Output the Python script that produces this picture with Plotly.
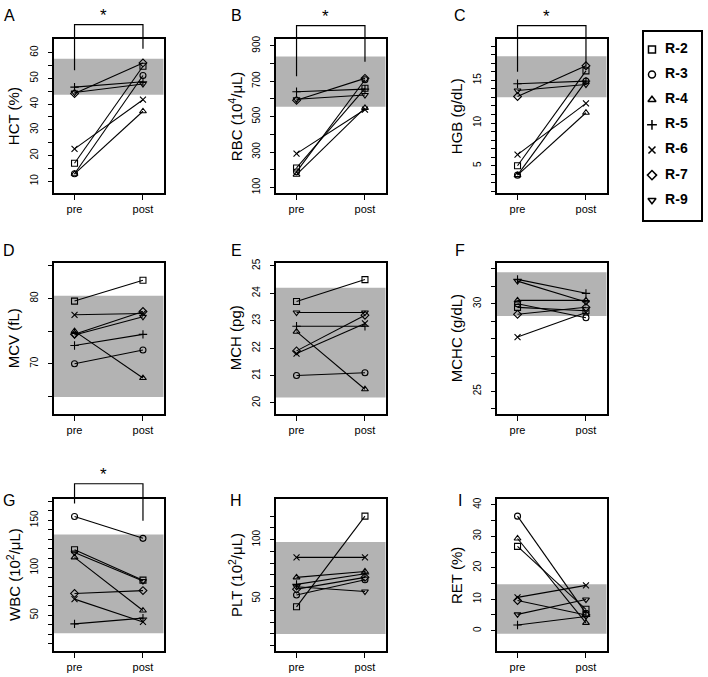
import plotly.graph_objects as go

W, H = 708, 677
FONT = "Liberation Sans, Arial, Helvetica, sans-serif"
INK = "#000000"
BAND = "#b3b3b3"

PATIENTS = ["R-2", "R-3", "R-4", "R-5", "R-6", "R-7", "R-9"]
SYMBOLS = ["square-open", "circle-open", "triangle-up-open", "cross-thin-open",
           "x-thin-open", "diamond-open", "triangle-down-open"]
PHASES = ["pre", "post"]

# values per patient (R-2 .. R-9)
HCT_PRE = [17.0, 12.9, 12.9, 46.6, 22.6, 44.1, 44.5]
HCT_POST = [54.7, 51.1, 37.2, 48.7, 41.7, 56.0, 47.8]
RBC_PRE = [210, 188, 172, 640, 291, 592, 598]
RBC_POST = [660, 708, 549, 655, 540, 716, 622]
HGB_PRE = [5.0, 3.9, 3.9, 14.6, 6.3, 13.1, 13.8]
HGB_POST = [16.1, 14.9, 11.2, 14.9, 12.3, 16.7, 14.5]
MCV_PRE = [79.6, 70.0, 75.0, 72.8, 77.5, 74.5, 74.4]
MCV_POST = [82.8, 72.1, 67.8, 74.5, 77.7, 78.0, 77.2]
MCH_PRE = [23.7, 21.0, 22.6, 22.8, 21.8, 21.9, 23.3]
MCH_POST = [24.5, 21.1, 20.5, 22.8, 22.9, 23.2, 23.3]
MCHC_PRE = [29.8, 30.0, 30.2, 31.4, 28.1, 29.4, 31.3]
MCHC_POST = [29.6, 29.2, 30.2, 30.6, 29.5, 29.8, 30.1]
WBC_PRE = [119, 154, 111, 41, 67, 73, 116]
WBC_POST = [87, 131, 55, 47, 43, 76, 86]
PLT_PRE = [43, 53, 68, 62, 85, 58, 60]
PLT_POST = [120, 66, 73, 71, 85, 68, 56]
RET_PRE = [26.8, 36.4, 29.3, 1.8, 10.6, 9.6, 5.2]
RET_POST = [6.8, 5.5, 2.5, 4.5, 14.4, 5.0, 9.9]

# reference ranges (grey bands)
HCT_REF = (43.6, 57.6)
RBC_REF = (555, 840)
HGB_REF = (13.0, 17.8)
MCV_REF = (64.9, 80.4)
MCH_REF = (20.2, 24.2)
MCHC_REF = (29.3, 31.8)
WBC_REF = (31, 135)
PLT_REF = (20, 98)
RET_REF = (-1, 14.8)

# tick marks and the subset that carries a label
HCT_TICKS, HCT_LABELS = list(range(10, 61, 5)), [10, 20, 30, 40, 50, 60]
RBC_TICKS, RBC_LABELS = list(range(100, 901, 100)), [100, 300, 500, 700, 900]
HGB_TICKS, HGB_LABELS = list(range(2, 20)), [5, 10, 15]
MCV_TICKS, MCV_LABELS = list(range(65, 86, 5)), [70, 80]
MCH_TICKS, MCH_LABELS = list(range(20, 26)), [20, 21, 22, 23, 24, 25]
MCHC_TICKS, MCHC_LABELS = list(range(24, 33)), [25, 30]
WBC_TICKS, WBC_LABELS = list(range(20, 171, 10)), [50, 100, 150]
PLT_TICKS, PLT_LABELS = list(range(10, 121, 10)), [50, 100]
RET_TICKS, RET_LABELS = list(range(0, 41, 5)), [0, 10, 20, 30, 40]

# letter, y title, pre, post, band, y range, ticks, labels, significant
PANELS = [
    ("A", "HCT (%)", HCT_PRE, HCT_POST, HCT_REF, (5.4, 65.2), HCT_TICKS, HCT_LABELS, True),
    ("B", "RBC (10<sup>4</sup>/μL)", RBC_PRE, RBC_POST, RBC_REF, (68, 937), RBC_TICKS, RBC_LABELS, True),
    ("C", "HGB (g/dL)", HGB_PRE, HGB_POST, HGB_REF, (1.8, 19.8), HGB_TICKS, HGB_LABELS, True),
    ("D", "MCV (fL)", MCV_PRE, MCV_POST, MCV_REF, (62.3, 85.5), MCV_TICKS, MCV_LABELS, False),
    ("E", "MCH (pg)", MCH_PRE, MCH_POST, MCH_REF, (19.6, 25.12), MCH_TICKS, MCH_LABELS, False),
    ("F", "MCHC (g/dL)", MCHC_PRE, MCHC_POST, MCHC_REF, (23.7, 32.36), MCHC_TICKS, MCHC_LABELS, False),
    ("G", "WBC (10<sup>2</sup>/μL)", WBC_PRE, WBC_POST, WBC_REF, (12.2, 172.6), WBC_TICKS, WBC_LABELS, True),
    ("H", "PLT (10<sup>2</sup>/μL)", PLT_PRE, PLT_POST, PLT_REF, (5.3, 134.7), PLT_TICKS, PLT_LABELS, False),
    ("I", "RET (%)", RET_PRE, RET_POST, RET_REF, (-6.5, 41.9), RET_TICKS, RET_LABELS, False),
]

# pixel layout of the 3x3 grid
COLS = [(54, 163.5), (276, 385.5), (497, 606.5)]
ROWS = [(35.5, 190.5), (260.5, 413), (498.5, 652)]
LETTER_X = [9, 236, 460]
LETTER_Y = [12, 248, 500]
XRANGE = [-0.3, 1.3]
# bracket: horizontal y, left leg end, right leg end (pixels)
BRACKETS = {"A": (20.7, 66.7, 45), "B": (21.7, 72.7, 58.3),
            "C": (21.7, 68.3, 63.3), "G": (483.3, 503.3, 520.7)}


def px(x):
    return x / W


def py(y):
    return 1 - y / H


fig = go.Figure()
shapes, annotations = [], []
layout = {}

for k, (letter, title, pre, post, band, yr, ticks, labels, sig) in enumerate(PANELS):
    n = k + 1
    r, c = divmod(k, 3)
    x0, x1 = COLS[c]
    y0, y1 = ROWS[r]
    sx = "" if n == 1 else str(n)
    xa, ya = "x" + sx, "y" + sx

    for i, name in enumerate(PATIENTS):
        fig.add_trace(go.Scatter(
            x=PHASES, y=[pre[i], post[i]], mode="lines+markers",
            name=name, showlegend=False, xaxis=xa, yaxis=ya,
            line=dict(color=INK, width=1.1),
            marker=dict(symbol=SYMBOLS[i], size=6, color=INK,
                        line=dict(color=INK, width=1.1)),
            cliponaxis=False,
        ))

    layout["xaxis" + sx] = dict(
        domain=[px(x0), px(x1)], anchor=ya, type="category",
        range=XRANGE, showline=True, mirror=True, linecolor=INK, linewidth=1.5,
        ticks="outside", ticklen=5, tickcolor=INK, tickwidth=1,
        showgrid=False, zeroline=False, fixedrange=True,
        tickfont=dict(size=11, color=INK, family=FONT),
    )
    # labelled ticks are major, the unlabelled ones are minor ticks of equal length
    layout["yaxis" + sx] = dict(
        domain=[py(y1), py(y0)], anchor=xa, range=list(yr),
        showline=True, mirror=True, linecolor=INK, linewidth=1.5,
        ticks="outside", ticklen=4, tickcolor=INK, tickwidth=1,
        tickmode="array", tickvals=labels, tickangle=-90,
        minor=dict(tickmode="array", tickvals=ticks, ticks="outside",
                   ticklen=4, tickcolor=INK, tickwidth=1, showgrid=False),
        showgrid=False, zeroline=False, fixedrange=True,
        tickfont=dict(size=10, color=INK, family=FONT), ticklabelstandoff=6,
    )

    shapes.append(dict(type="rect", xref=xa + " domain", yref=ya,
                       x0=0, x1=1, y0=band[0], y1=band[1],
                       fillcolor=BAND, line=dict(width=0), layer="below"))

    annotations.append(dict(text=title, textangle=-90, xref="paper", yref="paper",
                            x=px(x0 - 41), y=py((y0 + y1) / 2), showarrow=False,
                            xanchor="center", yanchor="middle",
                            font=dict(size=15, color=INK, family=FONT)))
    annotations.append(dict(text=letter, xref="paper", yref="paper",
                            x=px(LETTER_X[c]), y=py(LETTER_Y[r]), showarrow=False,
                            xanchor="center", yanchor="middle",
                            font=dict(size=16, color=INK, family=FONT)))

    if sig:
        hy, ly, ry = BRACKETS[letter]
        fx0 = (0 - XRANGE[0]) / (XRANGE[1] - XRANGE[0])
        fx1 = (1 - XRANGE[0]) / (XRANGE[1] - XRANGE[0])
        bx0 = x0 + fx0 * (x1 - x0)
        bx1 = x0 + fx1 * (x1 - x0)
        path = (f"M {px(bx0)},{py(ly)} L {px(bx0)},{py(hy)} "
                f"L {px(bx1)},{py(hy)} L {px(bx1)},{py(ry)}")
        shapes.append(dict(type="path", xref="paper", yref="paper", path=path,
                           line=dict(color=INK, width=1.2)))
        annotations.append(dict(text="*", xref="paper", yref="paper",
                                x=px((bx0 + bx1) / 2 - 5), y=py(hy - 9),
                                showarrow=False, xanchor="center", yanchor="middle",
                                font=dict(size=17, color=INK, family=FONT)))

# legend panel drawn as its own small subplot
fig.add_trace(go.Scatter(
    x=[0] * len(PATIENTS), y=list(range(len(PATIENTS))),
    mode="markers+text", text=["  " + p for p in PATIENTS],
    textposition="middle right",
    textfont=dict(size=14, color=INK, family=FONT, weight="bold"),
    marker=dict(symbol=SYMBOLS, size=7, color=INK, line=dict(color=INK, width=1.5)),
    xaxis="x10", yaxis="y10", showlegend=False, cliponaxis=False,
))
layout["xaxis10"] = dict(domain=[px(644), px(701)], anchor="y10", range=[-0.14, 0.86],
                         showline=True, mirror=True, linecolor=INK, linewidth=1.5,
                         showticklabels=False, ticks="", showgrid=False,
                         zeroline=False, fixedrange=True)
layout["yaxis10"] = dict(domain=[py(218), py(28)], anchor="x10", range=[6.8, -0.7],
                         showline=True, mirror=True, linecolor=INK, linewidth=1.5,
                         showticklabels=False, ticks="", showgrid=False,
                         zeroline=False, fixedrange=True)

fig.update_layout(
    width=W, height=H,
    margin=dict(l=0, r=0, t=0, b=0),
    paper_bgcolor="white", plot_bgcolor="white",
    font=dict(family=FONT, color=INK),
    shapes=shapes, annotations=annotations,
    showlegend=False,
    **layout,
)

# the page body has an 8px default margin; drop it so the figure sits at 0,0
fig.write_html("out.html", config={"displayModeBar": False},
               post_script="document.body.style.margin='0';")
